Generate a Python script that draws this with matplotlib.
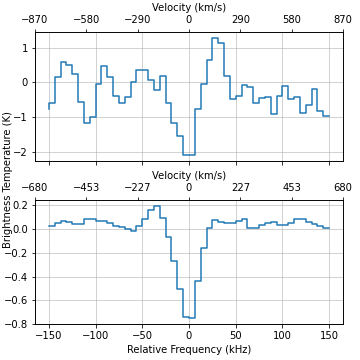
import numpy as np
import matplotlib
matplotlib.use("Agg")
import matplotlib.pyplot as plt

# relative frequency (kHz), 49 channels
freq = np.linspace(-150, 150, 49)

temp_top = [-0.78, -0.59, 0.17, 0.59, 0.51, 0.25, -0.56, -1.16, -0.99, -0.05,
            0.49, 0.17, -0.39, -0.59, -0.42, 0.0, 0.36, 0.35, 0.07, -0.23,
            0.19, -0.59, -1.16, -1.54, -2.1, -2.1, -0.76, -0.05, 0.66, 1.29,
            1.15, 0.2, -0.47, -0.39, -0.07, -0.13, -0.59, -0.46, -0.42, -0.92,
            -0.39, -0.10, -0.48, -0.41, -0.88, -0.64, -0.20, -0.83, -0.98]

temp_bot = [0.027, 0.027, 0.049, 0.068, 0.063, 0.046, 0.046, 0.082, 0.087, 0.068,
            0.068, 0.055, 0.027, 0.014, -0.003, -0.014, 0.027, 0.082, 0.158, 0.196,
            0.095, -0.068, -0.267, -0.505, -0.745, -0.75, -0.437, -0.158, 0.005, 0.076,
            0.063, 0.052, 0.052, 0.071, 0.082, 0.011, 0.011, 0.038, 0.055, 0.063,
            0.035, 0.035, 0.052, 0.082, 0.082, 0.06, 0.041, 0.027, 0.008]

vel_top_labels = ['\u2212870', '\u2212580', '\u2212290', '0', '290', '580', '870']
vel_bot_labels = ['\u2212680', '\u2212453', '\u2212227', '0', '227', '453', '680']

fig = plt.figure(figsize=(5, 5), dpi=72)
ax1 = fig.add_axes([0.097, 0.553, 0.856, 0.358])
ax2 = fig.add_axes([0.097, 0.100, 0.856, 0.344], sharex=ax1)

for ax, temp, labels in [(ax1, temp_top, vel_top_labels), (ax2, temp_bot, vel_bot_labels)]:
    ax.step(freq, temp, where='pre', color='#1f77b4', lw=1.5)
    ax.grid(True, alpha=0.7)
    ax.set_xlim(-165, 165)
    ax.set_xticks([-150, -100, -50, 0, 50, 100, 150])
    top = ax.twiny()
    top.set_xlim(-165, 165)
    top.set_xticks(np.linspace(-165, 165, 7))
    top.set_xticklabels(labels)
    top.set_xlabel('Velocity (km/s)')

ax1.set_yticks([-2, -1, 0, 1])
ax1.tick_params(labelbottom=False)
ax2.set_yticks([-0.8, -0.6, -0.4, -0.2, 0.0, 0.2])
ax2.set_xlabel('Relative Frequency (kHz)')

fig.text(0.022, 0.5, 'Brightness Temperature (K)', rotation=90, va='center', ha='center')

fig.savefig('out.png')
